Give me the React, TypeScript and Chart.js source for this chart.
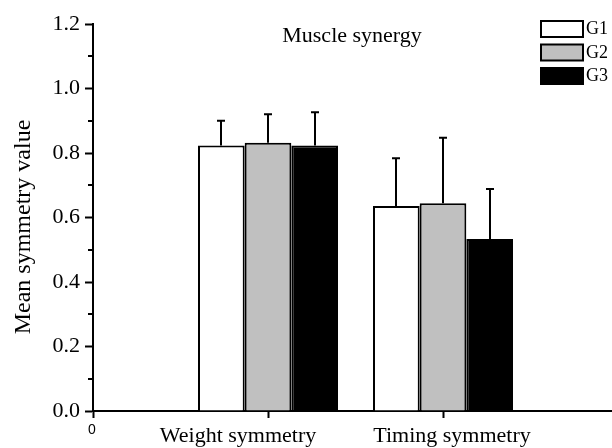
import React, { useEffect, useRef } from 'react';
import { Chart, registerables } from 'chart.js';

Chart.register(...registerables);

const categories = ['0', 'Weight symmetry', 'Timing symmetry', ''];
const seriesNames = ['G1', 'G2', 'G3'];
const g1Values = [null, 0.823, 0.636, null];
const g2Values = [null, 0.832, 0.644, null];
const g3Values = [null, 0.823, 0.533, null];
const g1Errors = [null, 0.077, 0.148, null];
const g2Errors = [null, 0.088, 0.203, null];
const g3Errors = [null, 0.103, 0.155, null];
const yMin = 0;
const yMax = 1.2;
const yStep = 0.2;
const minorTicks = [0.1, 0.3, 0.5, 0.7, 0.9, 1.1];
const titleText = 'Muscle synergy';
const yTitleText = 'Mean symmetry value';

const colors = ['#ffffff', '#c0c0c0', '#000000'];
const errors = [g1Errors, g2Errors, g3Errors];
const labelDx = [-1, -30, 9, 0];
const SERIF = '"Liberation Serif", "Times New Roman", serif';

const annotPlugin = {
  id: 'annot',
  afterDatasetsDraw(chart: any) {
    const ctx = chart.ctx;
    const yScale = chart.scales.y;
    ctx.save();
    ctx.strokeStyle = '#000';
    ctx.lineWidth = 2;
    chart.data.datasets.forEach((ds: any, di: number) => {
      const meta = chart.getDatasetMeta(di);
      meta.data.forEach((bar: any, i: number) => {
        const v = ds.data[i];
        const e = errors[di][i];
        if (v == null || e == null) return;
        const x = Math.round(bar.x);
        const y0 = yScale.getPixelForValue(v);
        const y1 = yScale.getPixelForValue(v + e);
        ctx.beginPath();
        ctx.moveTo(x, y0);
        ctx.lineTo(x, y1);
        ctx.moveTo(x - 4, y1);
        ctx.lineTo(x + 4, y1);
        ctx.stroke();
      });
    });
    ctx.restore();
  },
  afterDraw(chart: any) {
    const ctx = chart.ctx;
    const yScale = chart.scales.y;
    const xScale = chart.scales.x;
    const left = chart.chartArea.left;
    ctx.save();
    // minor ticks
    ctx.strokeStyle = '#000';
    ctx.lineWidth = 2;
    minorTicks.forEach((t) => {
      const y = Math.round(yScale.getPixelForValue(t));
      ctx.beginPath();
      ctx.moveTo(left - 5, y);
      ctx.lineTo(left, y);
      ctx.stroke();
    });
    // title
    ctx.fillStyle = '#000';
    ctx.font = '22px ' + SERIF;
    ctx.textAlign = 'center';
    ctx.textBaseline = 'alphabetic';
    ctx.fillText(titleText, 352, 42);
    // x labels
    categories.forEach((c, i) => {
      if (!c) return;
      const x = xScale.getPixelForTick(i) + labelDx[i];
      if (i === 0) {
        ctx.font = '14px "Liberation Sans", Arial, sans-serif';
        ctx.textBaseline = 'middle';
        ctx.fillText(c, x, 430);
      } else {
        ctx.font = '22px ' + SERIF;
        ctx.textBaseline = 'alphabetic';
        ctx.fillText(c, x, 442);
      }
    });
    // y title
    ctx.save();
    ctx.translate(24, 227);
    ctx.rotate(-Math.PI / 2);
    ctx.font = '24px ' + SERIF;
    ctx.textAlign = 'center';
    ctx.textBaseline = 'middle';
    ctx.fillText(yTitleText, 0, 0);
    ctx.restore();
    // legend
    chart.data.datasets.forEach((ds: any, di: number) => {
      const top = 21 + di * 23.5;
      ctx.fillStyle = ds.backgroundColor;
      ctx.fillRect(541, top, 42, 16);
      ctx.strokeStyle = '#000';
      ctx.lineWidth = 2;
      ctx.strokeRect(541, top, 42, 16);
      ctx.fillStyle = '#000';
      ctx.font = '18px ' + SERIF;
      ctx.textAlign = 'left';
      ctx.textBaseline = 'middle';
      ctx.fillText(ds.label, 586, top + 8.5);
    });
    ctx.restore();
  },
};

export default function App() {
  const ref = useRef<HTMLCanvasElement>(null);
  useEffect(() => {
    if (!ref.current) return;
    const seriesValues = [g1Values, g2Values, g3Values];
    const chart = new Chart(ref.current, {
      type: 'bar',
      data: {
        labels: categories,
        datasets: seriesNames.map((name, i) => ({
          label: name,
          data: seriesValues[i] as any,
          backgroundColor: colors[i],
          borderColor: '#000',
          borderWidth: 2,
          categoryPercentage: 0.8,
          barPercentage: 1,
        })),
      },
      options: {
        animation: false,
        responsive: false,
        devicePixelRatio: 1,
        layout: { padding: { top: 24, right: 0, left: 0, bottom: 0 } },
        plugins: { legend: { display: false }, tooltip: { enabled: false }, title: { display: false } },
        scales: {
          x: {
            type: 'category',
            offset: false,
            grid: {
              offset: false,
              drawOnChartArea: false,
              drawTicks: true,
              tickLength: 7,
              tickWidth: 2,
              tickColor: (c: any) => (c.index === 3 ? 'rgba(0,0,0,0)' : '#000'),
            },
            border: { display: true, color: '#000', width: 2 },
            ticks: { display: false },
            afterFit: (s: any) => {
              s.height = 37;
            },
          },
          y: {
            min: yMin,
            max: yMax,
            grid: {
              drawOnChartArea: false,
              drawTicks: true,
              tickLength: 8,
              tickWidth: 2,
              tickColor: '#000',
            },
            border: { display: true, color: '#000', width: 2 },
            ticks: {
              stepSize: yStep,
              padding: 5,
              color: '#000',
              font: { family: SERIF, size: 22 },
              callback: (v: any) => Number(v).toFixed(1),
            },
            afterFit: (s: any) => {
              s.width = 93;
            },
          },
        },
      } as any,
      plugins: [annotPlugin],
    });
    return () => chart.destroy();
  }, []);
  return (
    <div style={{ position: 'absolute', left: 0, top: 0, width: 612, height: 448, overflow: 'hidden', background: '#fff' }}>
      <canvas ref={ref} width={618} height={448} style={{ display: 'block' }} />
    </div>
  );
}
